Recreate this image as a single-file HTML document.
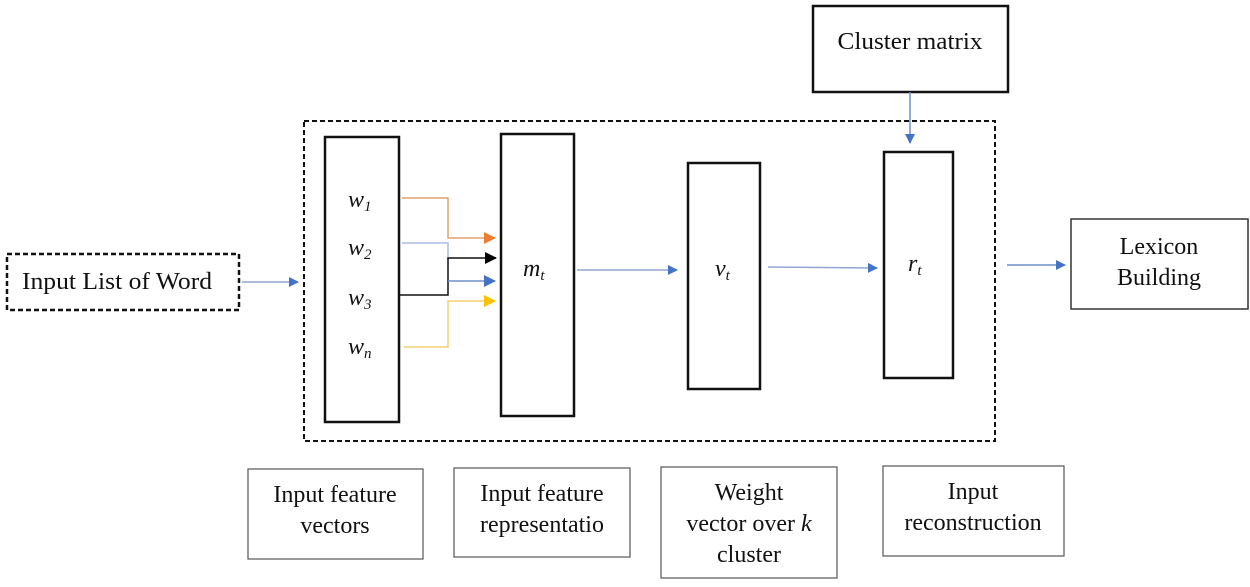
<!DOCTYPE html>
<html><head><style>
body{margin:0;background:#fff;}
svg text{font-family:"Liberation Serif",serif;fill:#111;}
</style></head><body>
<svg width="1250" height="582" viewBox="0 0 1250 582" xmlns="http://www.w3.org/2000/svg">
<defs>
<marker id="ab" markerWidth="10" markerHeight="10" refX="9" refY="5" orient="auto" markerUnits="userSpaceOnUse"><path d="M0,0 L10,5 L0,10z" fill="#4472c4"/></marker>
<marker id="ao" markerWidth="12" markerHeight="12" refX="11" refY="6" orient="auto" markerUnits="userSpaceOnUse"><path d="M0,0 L12,6 L0,12z" fill="#ed7d31"/></marker>
<marker id="ak" markerWidth="12" markerHeight="12" refX="11" refY="6" orient="auto" markerUnits="userSpaceOnUse"><path d="M0,0 L12,6 L0,12z" fill="#000"/></marker>
<marker id="ay" markerWidth="12" markerHeight="12" refX="11" refY="6" orient="auto" markerUnits="userSpaceOnUse"><path d="M0,0 L12,6 L0,12z" fill="#ffc000"/></marker>
<marker id="ab2" markerWidth="12" markerHeight="12" refX="11" refY="6" orient="auto" markerUnits="userSpaceOnUse"><path d="M0,0 L12,6 L0,12z" fill="#4472c4"/></marker>
</defs>
<rect x="304" y="121" width="691" height="320" fill="none" stroke="#111" stroke-width="2" stroke-dasharray="5,3"/>
<rect x="813" y="6" width="195" height="86" fill="#fff" stroke="#111" stroke-width="2.5"/>
<text x="910" y="49" font-size="24" text-anchor="middle" textLength="145" lengthAdjust="spacingAndGlyphs">Cluster matrix</text>
<line x1="910" y1="92" x2="910" y2="143" stroke="#6f8fc8" stroke-width="1.5" marker-end="url(#ab)"/>
<rect x="7" y="254" width="232" height="56" fill="#fff" stroke="#111" stroke-width="2.5" stroke-dasharray="5,3"/>
<text x="117" y="289" font-size="24" text-anchor="middle" textLength="190" lengthAdjust="spacingAndGlyphs">Input List of Word</text>
<line x1="242" y1="282" x2="298" y2="282" stroke="#8fa6d4" stroke-width="1.5" marker-end="url(#ab)"/>
<rect x="325" y="137" width="74" height="285" fill="#fff" stroke="#111" stroke-width="2.5"/>
<rect x="501" y="134" width="73" height="282" fill="#fff" stroke="#111" stroke-width="2.5"/>
<rect x="688" y="163" width="72" height="226" fill="#fff" stroke="#111" stroke-width="2.5"/>
<rect x="884" y="152" width="69" height="226" fill="#fff" stroke="#111" stroke-width="2.5"/>
<rect x="1071" y="219" width="177" height="90" fill="#fff" stroke="#333" stroke-width="1.5"/>
<text x="1159" y="254" font-size="24" text-anchor="middle">Lexicon</text>
<text x="1159" y="285" font-size="24" text-anchor="middle">Building</text>
<g font-style="italic" font-size="24">
<text x="348" y="207">w<tspan font-size="15" dy="4">1</tspan></text>
<text x="348" y="255">w<tspan font-size="15" dy="4">2</tspan></text>
<text x="348" y="305">w<tspan font-size="15" dy="4">3</tspan></text>
<text x="348" y="354">w<tspan font-size="15" dy="4">n</tspan></text>
<text x="523" y="276">m<tspan font-size="15" dy="4">t</tspan></text>
<text x="715" y="276">v<tspan font-size="15" dy="4">t</tspan></text>
<text x="908" y="271">r<tspan font-size="15" dy="4">t</tspan></text>
</g>
<polyline points="402,198 448,198 448,238 495,238" fill="none" stroke="#e0a070" stroke-width="1.5" marker-end="url(#ao)"/>
<polyline points="402,243 448,243 448,260" fill="none" stroke="#a8bde0" stroke-width="1.5"/>
<polyline points="399,295 448,295 448,258 496,258" fill="none" stroke="#111" stroke-width="1.5" marker-end="url(#ak)"/>
<line x1="448" y1="281" x2="495" y2="281" stroke="#6f8fc8" stroke-width="1.5" marker-end="url(#ab2)"/>
<polyline points="404,347 448,347 448,301 495,301" fill="none" stroke="#f0d070" stroke-width="1.5" marker-end="url(#ay)"/>
<line x1="577" y1="270" x2="677" y2="270" stroke="#8fa6d4" stroke-width="1.5" marker-end="url(#ab)"/>
<line x1="768" y1="267" x2="877" y2="268" stroke="#8fa6d4" stroke-width="1.5" marker-end="url(#ab)"/>
<line x1="1007" y1="265" x2="1065" y2="265" stroke="#6f8fc8" stroke-width="1.5" marker-end="url(#ab)"/>
<g fill="#fff" stroke="#555" stroke-width="1.2">
<rect x="248" y="469" width="175" height="90"/>
<rect x="454" y="468" width="176" height="89"/>
<rect x="661" y="467" width="176" height="111"/>
<rect x="883" y="466" width="181" height="90"/>
</g>
<g font-size="24" text-anchor="middle">
<text x="335" y="502">Input feature</text>
<text x="335" y="533">vectors</text>
<text x="542" y="501">Input feature</text>
<text x="542" y="532">representatio</text>
<text x="749" y="500">Weight</text>
<text x="749" y="531">vector over <tspan font-style="italic">k</tspan></text>
<text x="749" y="562">cluster</text>
<text x="973" y="499">Input</text>
<text x="973" y="530">reconstruction</text>
</g>
</svg>
</body></html>
